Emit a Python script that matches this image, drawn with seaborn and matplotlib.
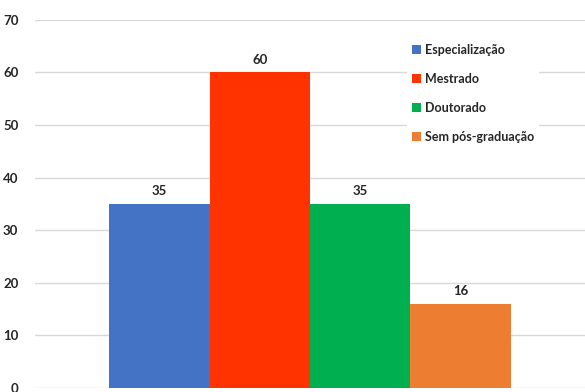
import pandas as pd
import seaborn as sns
import matplotlib.pyplot as plt

categories = ["Especialização", "Mestrado", "Doutorado", "Sem pós-graduação"]
values = [35, 60, 35, 16]
colors = ["#4472C4", "#FF3300", "#00B050", "#ED7D31"]
y_ticks = [0, 10, 20, 30, 40, 50, 60, 70]

df = pd.DataFrame({"grupo": [""] * len(categories), "categoria": categories, "valor": values})

sns.set_style("white")
plt.rcParams["font.family"] = ["Lato", "DejaVu Sans"]
plt.rcParams["font.weight"] = "bold"

fig = plt.figure(figsize=(5.85, 3.92), dpi=100)
ax = fig.add_axes([0.06, 0.0102, 0.94, 0.939])

sns.barplot(data=df, x="grupo", y="valor", hue="categoria", palette=colors,
            width=0.73, saturation=1, linewidth=0, ax=ax, legend=True)

for c in ax.containers:
    ax.bar_label(c, padding=5, fontsize=9.5, fontweight="bold", color="#262626")

ax.set_ylim(0, 70)
ax.set_yticks(y_ticks)
ax.set_xlim(-0.5, 0.5)
ax.yaxis.grid(True, color="#D9D9D9", linewidth=1)
ax.set_axisbelow(True)
ax.tick_params(axis="y", length=0, pad=12, labelsize=9.5, labelcolor="#262626")
ax.tick_params(axis="x", length=0)
ax.set_xticklabels([])
ax.set_xlabel("")
ax.set_ylabel("")
sns.despine(ax=ax, left=True, bottom=True)

leg = ax.legend(loc="upper left", bbox_to_anchor=(0.665, 0.965), frameon=True,
                edgecolor="none", facecolor="white", framealpha=1,
                handlelength=0.75, handleheight=0.75, handletextpad=0.3,
                labelspacing=1.35, fontsize=9)
for t in leg.get_texts():
    t.set_fontweight("bold")
    t.set_color("#262626")

fig.savefig("out.png", dpi=100)
